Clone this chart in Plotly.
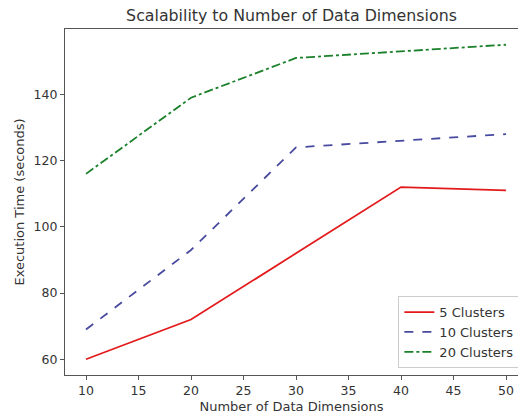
import plotly.graph_objects as go

dims = [10, 20, 30, 40, 50]
series_names = ["5 Clusters", "10 Clusters", "20 Clusters"]
time_5 = [60, 72, 92, 112, 111]
time_10 = [69, 93, 124, 126, 128]
time_20 = [116, 139, 151, 153, 155]
x_ticks = [10, 15, 20, 25, 30, 35, 40, 45, 50]
y_ticks = [60, 80, 100, 120, 140]

colors = ["#e31a1c", "#474a9e", "#1a8029"]
dashes = ["solid", "dash", "dashdot"]

fig = go.Figure()
for name, vals, c, d in zip(series_names, [time_5, time_10, time_20], colors, dashes):
    fig.add_trace(go.Scatter(x=dims, y=vals, mode="lines", name=name,
                             line=dict(color=c, width=1.8, dash=d)))

axis_common = dict(showgrid=False, zeroline=False, showline=True, linecolor="#555555",
                   linewidth=1.2, ticks="outside", ticklen=4, tickcolor="#555555",
                   tickfont=dict(size=12.5, color="#333333"))
fig.update_layout(
    width=518, height=417,
    margin=dict(l=65, r=0, t=29, b=42, autoexpand=False),
    paper_bgcolor="white", plot_bgcolor="white",
    font=dict(family="DejaVu Sans", color="#333333"),
    title=dict(text="Scalability to Number of Data Dimensions", x=0.5, xanchor="center",
               xref="paper", y=1 - 15/417, yanchor="middle", font=dict(size=15.8, color="#333333")),
    xaxis=dict(range=[8, 51.14], tickvals=x_ticks, mirror=True, automargin=False,
               title=dict(text="Number of Data Dimensions", font=dict(size=13), standoff=4), **axis_common),
    yaxis=dict(range=[55.25, 159.75], tickvals=y_ticks, automargin=False,
               title=dict(text="Execution Time (seconds)", font=dict(size=13), standoff=5), **axis_common),
    legend=dict(x=1.003, y=0.02, xanchor="right", yanchor="bottom", bgcolor="rgba(255,255,255,0.8)",
                bordercolor="#cccccc", borderwidth=1, font=dict(size=13, color="#333333"),
                tracegroupgap=0, itemwidth=30),
    showlegend=True,
)
fig.write_html("out.html")
